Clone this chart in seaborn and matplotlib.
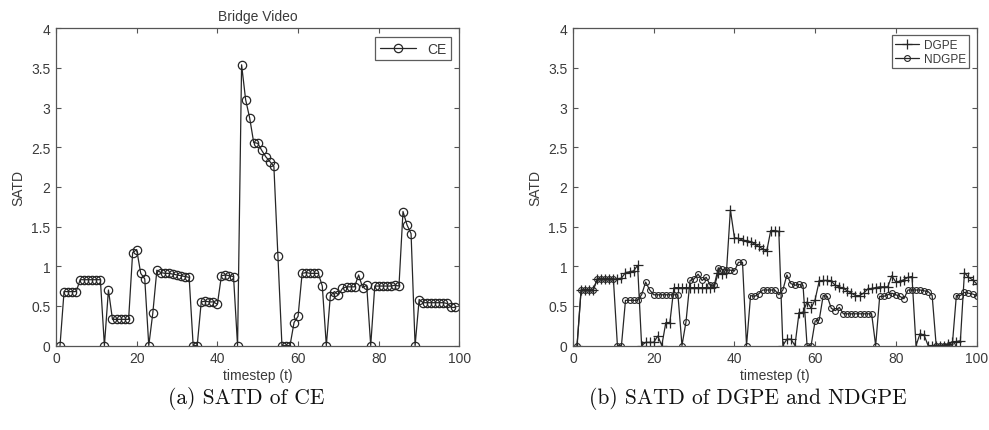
import numpy as np
import pandas as pd
import seaborn as sns
import matplotlib
matplotlib.use("Agg")
import matplotlib.pyplot as plt

# SATD per timestep, Bridge video
ce = [0.00, 0.68, 0.68, 0.68, 0.68, 0.83, 0.83, 0.83, 0.83, 0.83,
      0.83, 0.00, 0.70, 0.33, 0.33, 0.33, 0.33, 0.33, 1.17, 1.21,
      0.91, 0.84, 0.00, 0.41, 0.95, 0.92, 0.91, 0.91, 0.90, 0.89,
      0.88, 0.87, 0.86, 0.00, 0.00, 0.55, 0.56, 0.55, 0.55, 0.52,
      0.88, 0.89, 0.88, 0.87, 0.00, 3.54, 3.10, 2.87, 2.56, 2.55,
      2.46, 2.38, 2.32, 2.26, 1.13, 0.00, 0.00, 0.00, 0.29, 0.37,
      0.91, 0.92, 0.91, 0.91, 0.91, 0.75, 0.00, 0.63, 0.68, 0.64,
      0.72, 0.74, 0.74, 0.74, 0.89, 0.73, 0.76, 0.00, 0.75, 0.75,
      0.75, 0.75, 0.75, 0.76, 0.75, 1.69, 1.52, 1.41, 0.00, 0.58,
      0.54, 0.54, 0.54, 0.54, 0.54, 0.54, 0.53, 0.48, 0.48]

dgpe = [0.00, 0.70, 0.70, 0.70, 0.70, 0.84, 0.84, 0.84, 0.84, 0.84,
        0.84, 0.85, 0.92, 0.93, 0.94, 1.01, 0.00, 0.04, 0.04, 0.04,
        0.12, 0.00, 0.29, 0.29, 0.73, 0.73, 0.73, 0.73, 0.73, 0.73,
        0.73, 0.73, 0.73, 0.73, 0.74, 0.92, 0.90, 0.91, 1.71, 1.36,
        1.35, 1.33, 1.32, 1.31, 1.28, 1.25, 1.22, 1.19, 1.45, 1.45,
        1.44, 0.00, 0.08, 0.08, 0.00, 0.41, 0.42, 0.55, 0.47, 0.58,
        0.81, 0.82, 0.82, 0.81, 0.76, 0.74, 0.72, 0.69, 0.66, 0.63,
        0.63, 0.66, 0.71, 0.72, 0.73, 0.74, 0.74, 0.74, 0.88, 0.80,
        0.81, 0.83, 0.86, 0.87, 0.00, 0.15, 0.13, 0.00, 0.00, 0.00,
        0.00, 0.00, 0.02, 0.05, 0.05, 0.06, 0.92, 0.86, 0.83, 0.78]

ndgpe = [0.00, 0.70, 0.70, 0.70, 0.70, 0.84, 0.84, 0.84, 0.84, 0.84,
         0.00, 0.00, 0.57, 0.57, 0.57, 0.57, 0.64, 0.80, 0.70, 0.64,
         0.64, 0.64, 0.64, 0.64, 0.64, 0.64, 0.00, 0.30, 0.82, 0.84,
         0.90, 0.82, 0.86, 0.76, 0.76, 0.98, 0.96, 0.95, 0.95, 0.94,
         1.05, 1.05, 0.00, 0.63, 0.62, 0.65, 0.70, 0.70, 0.70, 0.70,
         0.64, 0.70, 0.89, 0.78, 0.76, 0.77, 0.76, 0.00, 0.00, 0.31,
         0.32, 0.63, 0.62, 0.47, 0.44, 0.48, 0.40, 0.40, 0.40, 0.40,
         0.40, 0.40, 0.40, 0.40, 0.00, 0.62, 0.62, 0.64, 0.66, 0.64,
         0.62, 0.59, 0.70, 0.70, 0.70, 0.70, 0.69, 0.68, 0.63, 0.00,
         0.00, 0.00, 0.00, 0.01, 0.63, 0.63, 0.67, 0.66, 0.65, 0.63]

t_ce = list(range(1, len(ce) + 1))
t_gp = list(range(1, len(dgpe) + 1))

x_ticks = [0, 20, 40, 60, 80, 100]
y_ticks = [0, 0.5, 1, 1.5, 2, 2.5, 3, 3.5, 4]
y_ticklabels = ["0", "0.5", "1", "1.5", "2", "2.5", "3", "3.5", "4"]

sns.set_style("white")
plt.rcParams["font.family"] = ["Liberation Sans", "DejaVu Sans"]

text_c = "#3a3a3a"
line_c = "#262626"

fig = plt.figure(figsize=(9.89, 4.31), dpi=100)
ax1 = fig.add_axes([0.0566, 0.196, 0.408, 0.736])
ax2 = fig.add_axes([0.5794, 0.196, 0.408, 0.736])


def style_axes(ax):
    ax.set_xlim(0, 100)
    ax.set_ylim(0, 4)
    ax.set_xticks(x_ticks)
    ax.set_xticklabels([str(v) for v in x_ticks])
    ax.set_yticks(y_ticks)
    ax.set_yticklabels(y_ticklabels)
    ax.tick_params(direction="in", length=3.5, width=0.8, colors="#555555",
                   labelcolor=text_c, labelsize=10, top=True, right=True,
                   bottom=True, left=True, pad=4)
    for s in ax.spines.values():
        s.set_visible(True)
        s.set_color("#555555")
        s.set_linewidth(0.9)
    ax.set_xlabel("timestep (t)", fontsize=10, color=text_c, labelpad=2)
    ax.set_ylabel("SATD", fontsize=10, color=text_c, labelpad=4)
    ax.set_facecolor("white")


df_ce = pd.DataFrame({"t": t_ce, "SATD": ce})
sns.lineplot(data=df_ce, x="t", y="SATD", ax=ax1, color=line_c, lw=0.9,
             marker="o", ms=6, mfc="none", mec=line_c, mew=0.9, label="CE")
style_axes(ax1)
ax1.set_title("Bridge Video", fontsize=10, color=text_c, pad=6)
leg1 = ax1.legend(loc="upper right", fontsize=10, frameon=True, fancybox=False,
                  edgecolor="#333333", handlelength=2.6, borderpad=0.35,
                  borderaxespad=0.6)
leg1.get_frame().set_linewidth(0.9)
for txt in leg1.get_texts():
    txt.set_color(text_c)

df_gp = pd.DataFrame({"t": t_gp, "DGPE": dgpe, "NDGPE": ndgpe})
sns.lineplot(data=df_gp, x="t", y="DGPE", ax=ax2, color=line_c, lw=0.9,
             marker="+", ms=7, mew=0.9, mec=line_c, label="DGPE")
sns.lineplot(data=df_gp, x="t", y="NDGPE", ax=ax2, color=line_c, lw=0.9,
             marker="o", ms=4.2, mfc="none", mec=line_c, mew=0.8, label="NDGPE")
style_axes(ax2)
leg2 = ax2.legend(loc="upper right", fontsize=8.5, frameon=True, fancybox=False,
                  edgecolor="#333333", handlelength=2.0, borderpad=0.3,
                  labelspacing=0.15, handletextpad=0.4, borderaxespad=0.6)
leg2.get_frame().set_linewidth(0.9)
for txt in leg2.get_texts():
    txt.set_color(text_c)

fig.text(0.249, 0.075, "(a) SATD of CE", family="cmr10", fontsize=15.5,
         ha="center", va="center", color="#111111")
fig.text(0.756, 0.075, "(b) SATD of DGPE and NDGPE", family="cmr10",
         fontsize=15.5, ha="center", va="center", color="#111111")

fig.savefig("out.png", dpi=100, facecolor="white")
